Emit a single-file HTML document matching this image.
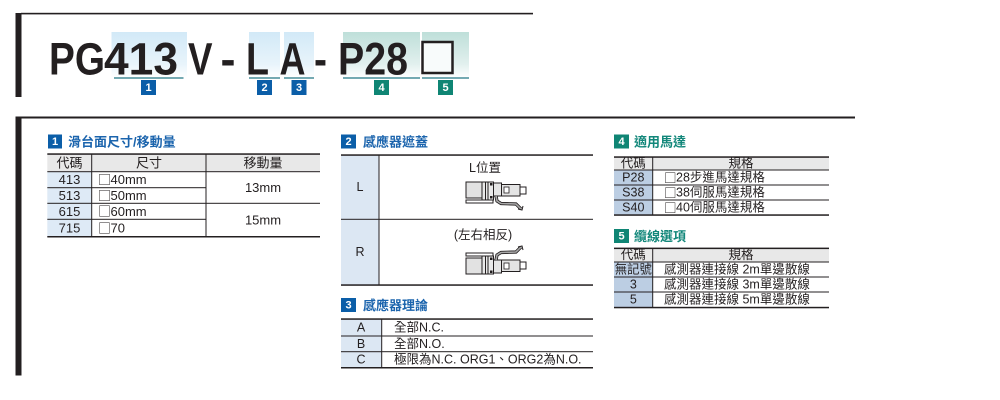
<!DOCTYPE html>
<html><head><meta charset="utf-8">
<style>
html,body{margin:0;padding:0;background:#fff;}
svg{display:block;}
text{font-family:"Liberation Sans","Noto Sans CJK TC",sans-serif;fill:#231f20;}
.t{font-size:13px;dominant-baseline:central;}
.s{font-size:12.5px;dominant-baseline:central;}
.m{text-anchor:middle;}
.bt{font-size:11px;font-weight:bold;fill:#fff;text-anchor:middle;dominant-baseline:central;}
.hb{font-size:13px;font-weight:bold;dominant-baseline:central;}
.big{font-size:45px;font-weight:bold;}
.sq{font-family:"Noto Sans CJK TC",sans-serif;}
</style></head>
<body>
<svg width="1000" height="400" viewBox="0 0 1000 400" xmlns="http://www.w3.org/2000/svg">
<defs>
<linearGradient id="gb" x1="0" y1="0" x2="0" y2="1">
<stop offset="0" stop-color="#d2e9f7"/><stop offset="0.7" stop-color="#e8f4fb"/><stop offset="1" stop-color="#ffffff"/>
</linearGradient>
<linearGradient id="gt" x1="0" y1="0" x2="0" y2="1">
<stop offset="0" stop-color="#bedfd9"/><stop offset="0.7" stop-color="#e2f0ee"/><stop offset="1" stop-color="#ffffff"/>
</linearGradient>
<g id="icon">
<rect x="1" y="19" width="27" height="3" fill="#fff" stroke="#231f20" stroke-width="1"/>
<rect x="1" y="1" width="16" height="16" fill="#e2e2e2" stroke="#231f20" stroke-width="1"/>
<rect x="17" y="1" width="11.5" height="18" fill="#e9e9e9" stroke="#231f20" stroke-width="1"/>
<line x1="20.5" y1="1" x2="20.5" y2="19" stroke="#231f20" stroke-width="1"/>
<line x1="23" y1="1" x2="23" y2="19" stroke="#231f20" stroke-width="1"/>
<rect x="25" y="2" width="2.5" height="2.5" fill="#231f20"/>
<rect x="25" y="15" width="2.5" height="2.5" fill="#231f20"/>
<rect x="28.5" y="2" width="8" height="13" fill="#e6e6e6" stroke="#231f20" stroke-width="1"/>
<rect x="36.5" y="3.5" width="18.5" height="11.5" fill="#e4e4e4" stroke="#231f20" stroke-width="1"/>
<rect x="39" y="6" width="5" height="6" fill="#fff" stroke="#231f20" stroke-width="0.8"/>
<rect x="55" y="6" width="6" height="7" fill="#fff" stroke="#231f20" stroke-width="1"/>
<polyline points="31,15 32,20 36,22.5 51,23 56,28" fill="none" stroke="#231f20" stroke-width="3.2"/>
<polyline points="31,15 32,20 36,22.5 51,23 56,28" fill="none" stroke="#a8a8a8" stroke-width="1.6"/>
<polyline points="53,28 57,29 58,25" fill="none" stroke="#231f20" stroke-width="1"/>
</g>
</defs>
<rect x="0" y="0" width="1000" height="400" fill="#fff"/>

<!-- Header model code -->
<rect x="15.5" y="13" width="6" height="84" fill="#231f20"/>
<rect x="21" y="12.8" width="512" height="1.6" fill="#231f20"/>

<rect x="111.5" y="32" width="75.5" height="46" fill="url(#gb)"/>
<rect x="249" y="32" width="31" height="46" fill="url(#gb)"/>
<rect x="284" y="32" width="30" height="46" fill="url(#gb)"/>
<rect x="343" y="32" width="77" height="46" fill="url(#gt)"/>
<rect x="422" y="32" width="47" height="46" fill="url(#gt)"/>

<text class="big" x="49" y="74.4" textLength="56" lengthAdjust="spacingAndGlyphs">PG</text>
<text class="big" x="104" y="74.4" textLength="74" lengthAdjust="spacingAndGlyphs">413</text>
<text class="big" x="188" y="74.4" textLength="24.5" lengthAdjust="spacingAndGlyphs">V</text>
<text class="big" x="220.5" y="74.4" textLength="15" lengthAdjust="spacingAndGlyphs">-</text>
<text class="big" x="246" y="74.4" textLength="23" lengthAdjust="spacingAndGlyphs">L</text>
<text class="big" x="279.5" y="74.4" textLength="26" lengthAdjust="spacingAndGlyphs">A</text>
<text class="big" x="314" y="74.4" textLength="13" lengthAdjust="spacingAndGlyphs">-</text>
<text class="big" x="338" y="74.4" textLength="70" lengthAdjust="spacingAndGlyphs">P28</text>
<rect x="422.5" y="42" width="30" height="31" fill="#f8fbfb" stroke="#231f20" stroke-width="2.5"/>

<rect x="114" y="77.3" width="69.5" height="1.4" fill="#3a8592"/>
<rect x="249" y="77.3" width="31" height="1.4" fill="#3a8592"/>
<rect x="284" y="77.3" width="30" height="1.4" fill="#3a8592"/>
<rect x="343" y="77.3" width="77" height="1.4" fill="#3a8592"/>
<rect x="422" y="77.3" width="47" height="1.4" fill="#3a8592"/>

<rect x="141" y="80" width="15" height="15" fill="#0b5ea8"/><text class="bt" x="148.5" y="88">1</text>
<rect x="257" y="80" width="15" height="15" fill="#0b5ea8"/><text class="bt" x="264.5" y="88">2</text>
<rect x="291.5" y="80" width="15" height="15" fill="#0b5ea8"/><text class="bt" x="299" y="88">3</text>
<rect x="374" y="80" width="15" height="15" fill="#0f8574"/><text class="bt" x="381.5" y="88">4</text>
<rect x="438" y="80" width="15" height="15" fill="#0f8574"/><text class="bt" x="445.5" y="88">5</text>

<!-- Lower frame -->
<rect x="15.5" y="116.5" width="6" height="259" fill="#231f20"/>
<rect x="21" y="116.5" width="834" height="2" fill="#231f20"/>

<!-- Section 1 -->
<rect x="48" y="134.5" width="14" height="14" fill="#0b5ea8"/><text class="bt" x="55" y="142">1</text>
<text class="hb" x="68" y="142" style="fill:#1b64ad">滑台面尺寸/移動量</text>

<rect x="47.3" y="154" width="272.7" height="17.7" fill="#e8e8e8"/>
<rect x="47.3" y="171.7" width="44.4" height="65" fill="#deeaf6"/>
<rect x="47.3" y="153.3" width="272.7" height="1.5" fill="#231f20"/>
<rect x="47.3" y="171.2" width="272.7" height="1" fill="#231f20"/>
<rect x="47.3" y="187.2" width="158.7" height="1" fill="#231f20"/>
<rect x="47.3" y="202.8" width="272.7" height="1" fill="#231f20"/>
<rect x="47.3" y="218.8" width="158.7" height="1" fill="#231f20"/>
<rect x="47.3" y="236" width="272.7" height="1.5" fill="#231f20"/>
<rect x="91.2" y="154" width="1" height="82.7" fill="#231f20"/>
<rect x="205.5" y="154" width="1" height="82.7" fill="#231f20"/>

<text class="t m" x="69.5" y="163">代碼</text>
<text class="t m" x="149" y="163">尺寸</text>
<text class="t m" x="263" y="163">移動量</text>
<text class="t m" x="69.5" y="179.7">413</text>
<text class="t m" x="69.5" y="195.5">513</text>
<text class="t m" x="69.5" y="211.3">615</text>
<text class="t m" x="69.5" y="228">715</text>
<text class="t sq" x="98" y="179">□</text><text class="t" x="110.5" y="179.7">40mm</text>
<text class="t sq" x="98" y="194.8">□</text><text class="t" x="110.5" y="195.5">50mm</text>
<text class="t sq" x="98" y="210.6">□</text><text class="t" x="110.5" y="211.3">60mm</text>
<text class="t sq" x="98" y="227.3">□</text><text class="t" x="110.5" y="228">70</text>
<text class="t m" x="263" y="187.5">13mm</text>
<text class="t m" x="263" y="220">15mm</text>

<!-- Section 2 -->
<rect x="341" y="134.5" width="15" height="14" fill="#0b5ea8"/><text class="bt" x="348.5" y="142">2</text>
<text class="hb" x="363" y="142" style="fill:#1b64ad">感應器遮蓋</text>

<rect x="341" y="155" width="38" height="130" fill="#dce7f3"/>
<rect x="341" y="154.3" width="252" height="1.5" fill="#231f20"/>
<rect x="341" y="218.8" width="252" height="1" fill="#231f20"/>
<rect x="341" y="284.3" width="252" height="1.5" fill="#231f20"/>
<rect x="378.5" y="155" width="1" height="130" fill="#231f20"/>
<text class="s m" x="360" y="187">L</text>
<text class="s m" x="360" y="252">R</text>
<text class="s m" x="485" y="168">L位置</text>
<text class="s m" x="483" y="235">(左右相反)</text>
<use href="#icon" x="465" y="181"/>
<g transform="translate(465,275) scale(1,-1)"><use href="#icon"/></g>

<!-- Section 3 -->
<rect x="341" y="298" width="15" height="14" fill="#0b5ea8"/><text class="bt" x="348.5" y="305.5">3</text>
<text class="hb" x="363" y="305.5" style="fill:#1b64ad">感應器理論</text>

<rect x="341" y="319" width="40.7" height="48.7" fill="#dce7f3"/>
<rect x="341" y="318.3" width="252" height="1.5" fill="#231f20"/>
<rect x="341" y="335.5" width="252" height="1" fill="#231f20"/>
<rect x="341" y="351.2" width="252" height="1" fill="#231f20"/>
<rect x="341" y="367" width="252" height="1.5" fill="#231f20"/>
<rect x="381.2" y="319" width="1" height="48.7" fill="#231f20"/>
<text class="s m" x="361" y="327.7">A</text>
<text class="s m" x="361" y="343.8">B</text>
<text class="s m" x="361" y="359.7">C</text>
<text class="s" x="394" y="327.7">全部N.C.</text>
<text class="s" x="394" y="343.8">全部N.O.</text>
<text class="s" x="394" y="359.7">極限為N.C. ORG1、ORG2為N.O.</text>

<!-- Section 4 -->
<rect x="614" y="134.5" width="15" height="14" fill="#0f8574"/><text class="bt" x="621.5" y="142">4</text>
<text class="hb" x="634" y="142" style="fill:#12877a">適用馬達</text>

<rect x="614" y="157" width="215" height="13" fill="#e8e8e8"/>
<rect x="614" y="170" width="38.7" height="45" fill="#bccee3"/>
<rect x="614" y="156.3" width="215" height="1.5" fill="#231f20"/>
<rect x="614" y="169.5" width="215" height="1" fill="#231f20"/>
<rect x="614" y="184.5" width="215" height="1" fill="#231f20"/>
<rect x="614" y="199.5" width="215" height="1" fill="#231f20"/>
<rect x="614" y="214.3" width="215" height="1.5" fill="#231f20"/>
<rect x="652.2" y="157" width="1" height="58" fill="#231f20"/>
<text class="s m" x="633.3" y="163.5">代碼</text>
<text class="s m" x="741" y="163.5">規格</text>
<text class="s m" x="633.3" y="177.5">P28</text>
<text class="s m" x="633.3" y="192.5">S38</text>
<text class="s m" x="633.3" y="207.5">S40</text>
<text class="s sq" x="664" y="176.8">□</text><text class="s" x="676" y="177.5">28步進馬達規格</text>
<text class="s sq" x="664" y="191.8">□</text><text class="s" x="676" y="192.5">38伺服馬達規格</text>
<text class="s sq" x="664" y="206.8">□</text><text class="s" x="676" y="207.5">40伺服馬達規格</text>

<!-- Section 5 -->
<rect x="614" y="229" width="15" height="14" fill="#0f8574"/><text class="bt" x="621.5" y="236.5">5</text>
<text class="hb" x="634" y="236.5" style="fill:#12877a">纜線選項</text>

<rect x="614" y="248.3" width="215" height="13.7" fill="#e8e8e8"/>
<rect x="614" y="262" width="38.7" height="45.5" fill="#bccee3"/>
<rect x="614" y="247.6" width="215" height="1.5" fill="#231f20"/>
<rect x="614" y="261.5" width="215" height="1" fill="#231f20"/>
<rect x="614" y="276.5" width="215" height="1" fill="#231f20"/>
<rect x="614" y="291.5" width="215" height="1" fill="#231f20"/>
<rect x="614" y="306.8" width="215" height="1.5" fill="#231f20"/>
<rect x="652.2" y="248.3" width="1" height="59" fill="#231f20"/>
<text class="s m" x="633.3" y="255">代碼</text>
<text class="s m" x="741" y="255">規格</text>
<text class="s m" x="633.3" y="269.3" textLength="37" lengthAdjust="spacingAndGlyphs">無記號</text>
<text class="s m" x="633.3" y="284.3">3</text>
<text class="s m" x="633.3" y="299.5">5</text>
<text class="s" x="664" y="269.3">感測器連接線 2m單邊散線</text>
<text class="s" x="664" y="284.3">感測器連接線 3m單邊散線</text>
<text class="s" x="664" y="299.5">感測器連接線 5m單邊散線</text>
</svg>
</body></html>
